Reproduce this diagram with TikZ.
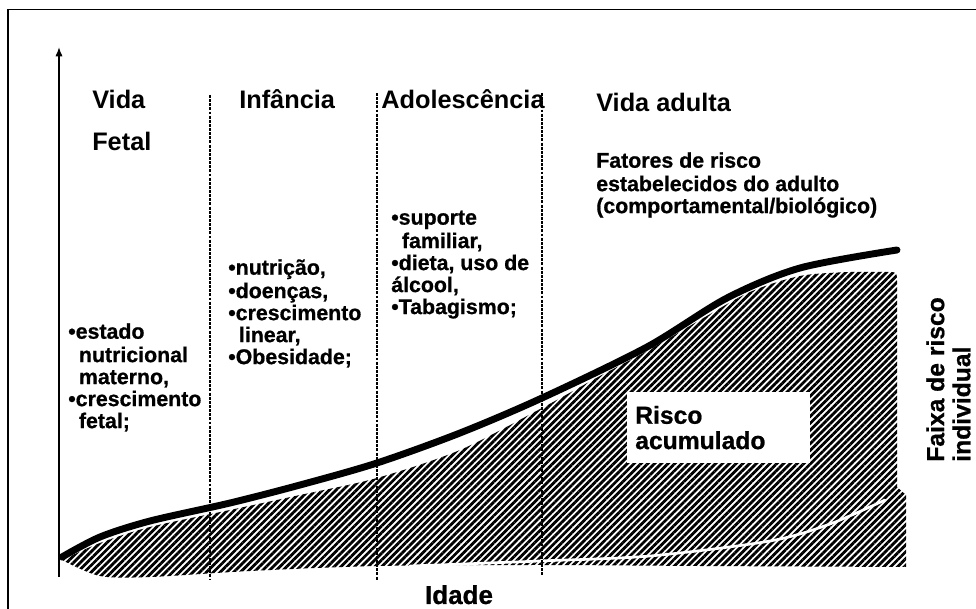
\documentclass[tikz,border=0pt]{standalone}
\usepackage{fontspec}
\setmainfont{Liberation Sans}
\newfontfamily\heavy{Liberation Sans}[BoldFeatures={FakeBold=0.8}]
\usetikzlibrary{positioning,arrows.meta,patterns.meta}
\tikzset{
  hd/.style={font=\fontsize{19}{22}\selectfont\bfseries, anchor=base west, inner sep=0pt},
  bt/.style={font=\fontsize{16}{16.5}\selectfont\heavy\bfseries, align=left, anchor=north west, inner sep=0pt},
  dv/.style={line width=0.9pt, dash pattern=on 2.2pt off 0.9pt},
  ax/.style={line width=1.2pt, -{Latex[length=7pt,width=5.5pt]}},
  cv/.style={line width=5.2pt, line cap=round},
  ht/.style={pattern={Lines[angle=45,distance=3.6pt,line width=2.1pt]}},
  rk/.style={fill=white, font=\fontsize{18.5}{19}\selectfont\heavy\bfseries, align=left, text width=125pt, minimum height=53pt, inner xsep=6pt, anchor=north west}
}
\newcommand{\ind}{\hspace*{0.5em}}
\begin{document}
\begin{tikzpicture}[x=0.75pt,y=-0.75pt]
	\useasboundingbox (0,0) rectangle (976,609);
	\draw[line width=1pt] (8,609) -- (8,9.5) -- (976,9.5);
	% area hachurada
	\path[ht] plot[smooth, tension=0.5] coordinates {(62,560) (100,543) (150,527) (230,510) (300,495) (377,478) (460,450) (542,408) (600,376) (647,351) (700,320) (750,292) (800,276) (850,272) (888,272)}
		.. controls (897,272) .. (897,282) -- (897,487) -- (906,495) -- (906,567)
		-- plot[smooth, tension=0.5] coordinates {(906,567) (700,566) (540,565) (377,566) (250,571) (150,577) (100,576) (62,560)} -- cycle;
	\draw[white, line width=2pt, line cap=round] plot[smooth, tension=0.5] coordinates {(410,566) (540,561) (650,556) (770,541) (830,524) (885,500)};
	%
	\draw[dv] (210,95) -- (210,580);
	\draw[dv] (377,93) -- (377,580);
	\draw[dv] (542,93) -- (542,575);
	\coordinate (o) at (59,577);
	\coordinate (yt) at (59,47);
	\draw[ax] (o) -- (yt);
	\draw[cv] plot[smooth, tension=0.5] coordinates {(62,557) (100,537) (150,521) (230,503) (300,485) (377,463) (460,433) (542,398) (647,347) (727,298) (800,268) (897,250)};
	%
	\node[hd] (vida) at (92,109) {Vida};
	\node[hd, below=31.5pt of vida.base west, anchor=base west] (fetal) {Fetal};
	\node[hd] (infancia) at (239,109) {Infância};
	\node[hd] (adol) at (381,109) {Adolescência};
	\node[hd] (adulta) at (596,112) {Vida adulta};
	\node[bt, below=30pt of adulta.base west, anchor=north west] (fatores) {\strut Fatores de risco\\estabelecidos do adulto\\(comportamental/biológico)};
	\node[bt] (fetalrisco) at (68,323) {\strut•estado\\\ind nutricional\\\ind materno,\\•crescimento\\\ind fetal;};
	\node[bt] (infrisco) at (228,259) {\strut•nutrição,\\•doenças,\\•crescimento\\\ind linear,\\•Obesidade;};
	\node[bt] (adolrisco) at (391,209) {\strut•suporte\\\ind familiar,\\•dieta, uso de\\álcool,\\•Tabagismo;};
	\node[rk] (risco) at (627,392) {Risco\\acumulado};
	\node[rotate=90, font=\fontsize{18.5}{17.25}\selectfont\heavy\bfseries, align=left, anchor=north west, inner sep=0pt] (faixa) at (926,462) {\strut Faixa de risco\\individual};
	\node[font=\fontsize{19.5}{22}\selectfont\heavy\bfseries, anchor=base, inner sep=0pt] (idade) at (459,604) {Idade};
\end{tikzpicture}
\end{document}
